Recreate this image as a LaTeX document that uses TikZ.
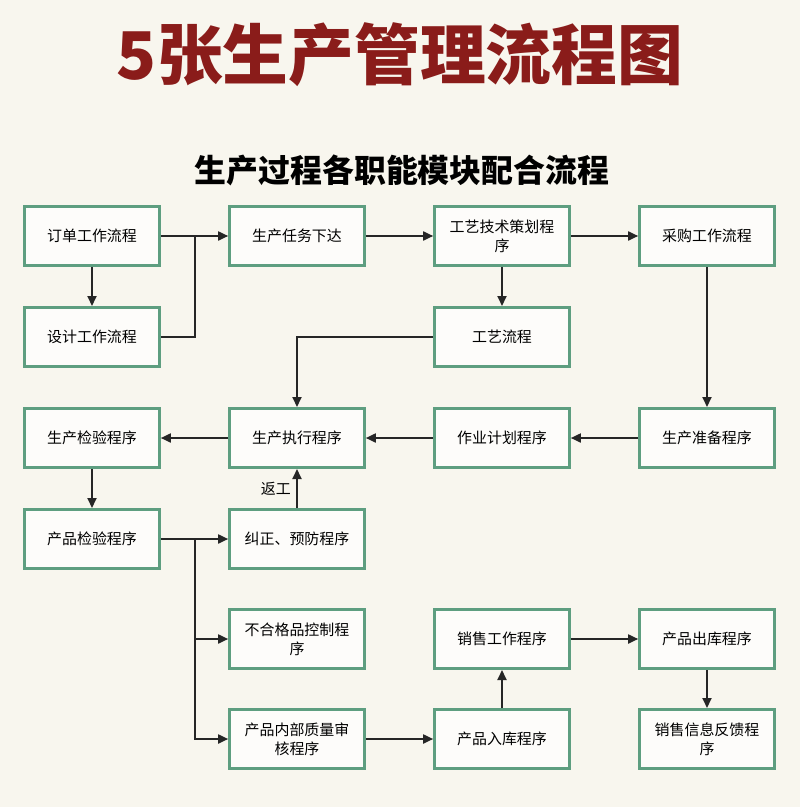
\documentclass[tikz,border=0pt]{standalone}
\usepackage{fontspec}
\setmainfont{Noto Sans CJK SC}
\usetikzlibrary{arrows.meta}
\definecolor{boxgreen}{HTML}{5E9E80}
\definecolor{titlered}{HTML}{8A1C1A}
\definecolor{paper}{HTML}{F8F6EE}
\tikzset{
  procbox/.style={draw=boxgreen, line width=3pt, fill=white!70!paper, minimum width=133bp,
    minimum height=59bp, text width=128bp, align=center, font=\fontsize{15}{19}\selectfont},
  flow/.style={line width=1.8pt, draw=black!85, -{Triangle[length=10bp,width=9bp]}},
  link/.style={line width=1.8pt, draw=black!85}
}
\begin{document}
\begin{tikzpicture}[x=1bp,y=-1bp]
  \fill[paper] (0,0) rectangle (800,807);
  \useasboundingbox (0,0) rectangle (800,807);
  % titles
  \node[font=\fontsize{66}{70}\selectfont\bfseries, text=titlered] (title) at (400,55) {5张生产管理流程图};
  \node[font=\fontsize{32}{36}\selectfont\bfseries] (sub) at (402,170) {生产过程各职能模块配合流程};
  % first row
  \node[procbox] (order) at (92,236) {订单工作流程};
  \node[procbox] (task) at (297,236) {生产任务下达};
  \node[procbox] (plan) at (502,236) {工艺技术策划程\\序};
  \node[procbox] (buy) at (707,236) {采购工作流程};
  % second row
  \node[procbox] (design) at (92,337) {设计工作流程};
  \node[procbox] (craft) at (502,337) {工艺流程};
  % third row
  \node[procbox] (check) at (92,438) {生产检验程序};
  \node[procbox] (run) at (297,438) {生产执行程序};
  \node[procbox] (sched) at (502,438) {作业计划程序};
  \node[procbox] (prep) at (707,438) {生产准备程序};
  % fourth row
  \node[procbox] (prod) at (92,539) {产品检验程序};
  \node[procbox] (fix) at (297,539) {纠正、预防程序};
  % fifth row
  \node[procbox] (bad) at (297,639) {不合格品控制程\\序};
  \node[procbox] (sale) at (502,639) {销售工作程序};
  \node[procbox] (out) at (707,639) {产品出库程序};
  % sixth row
  \node[procbox] (audit) at (297,739) {产品内部质量审\\核程序};
  \node[procbox] (store) at (502,739) {产品入库程序};
  \node[procbox] (info) at (707,739) {销售信息反馈程\\序};
  \coordinate (j1) at (195,236);
  \coordinate (j2) at (195,539);
  % connectors
  \draw[flow] (order) -- (task);
  \draw[flow] (order) -- (design);
  \draw[link] (design.east) -| (j1);
  \draw[flow] (task) -- (plan);
  \draw[flow] (plan) -- (buy);
  \draw[flow] (plan) -- (craft);
  \draw[flow] (craft.west) -| (run.north);
  \draw[flow] (buy) -- (prep);
  \draw[flow] (prep) -- (sched);
  \draw[flow] (sched) -- (run);
  \draw[flow] (run) -- (check);
  \draw[flow] (check) -- (prod);
  \draw[flow] (prod) -- (fix);
  \draw[flow] (j2) |- (bad.west);
  \draw[flow] (j2) |- (audit.west);
  \draw[flow] (fix) -- node[left, font=\fontsize{15}{19}\selectfont, xshift=-2bp] (rework) {返工} (run);
  \draw[flow] (audit) -- (store);
  \draw[flow] (store) -- (sale);
  \draw[flow] (sale) -- (out);
  \draw[flow] (out) -- (info);
\end{tikzpicture}
\end{document}
